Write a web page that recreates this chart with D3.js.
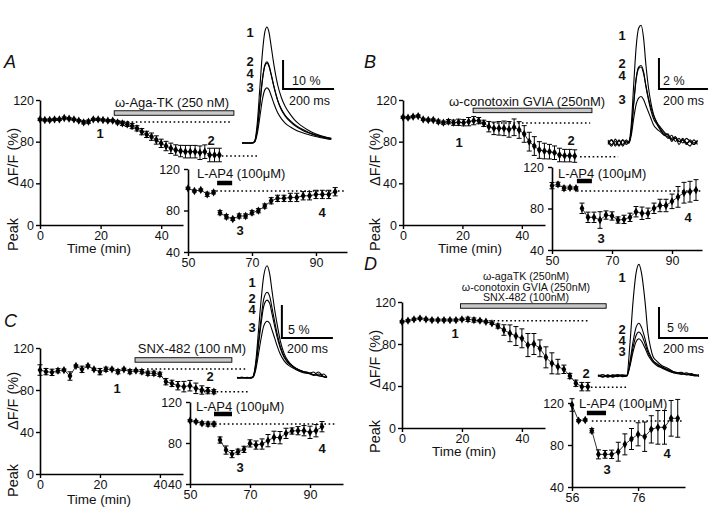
<!DOCTYPE html>
<html><head><meta charset="utf-8">
<script src="https://cdn.jsdelivr.net/npm/d3@7"></script>
<style>
body{margin:0;background:#fff;}
svg{font-family:"Liberation Sans",Arial,sans-serif;display:block;}
</style></head><body>
<svg id="chart" width="720" height="507"></svg>
<script>
// ================= DATA =================
// ---- Panel A (ω-Aga-TK) ----
const mainTimeA = [0,1.6,3.2,4.8,6.4,8,9.6,11.2,12.8,14.4,16,17.6,19.2,20.8,22.4,24,25.6,27.2,28.8,30.4,32,33.6,35.2,36.8,38.4,40,41.6,43.2,44.8,46.4,48,49.6,51.2,52.8,54.4,56,57.6,59.2];
const mainPeakA = [101.4,100.8,100.8,101.4,101.4,102.7,102.1,101.4,100.2,98.6,99.2,101.4,101.4,100.8,100.2,100.2,98.6,97.6,96.6,95,92.8,89.6,87,84.8,81.6,78.4,75.8,73.6,72,71,70.4,70.4,70.4,69.4,70.4,67.2,67.2,67.2];
const mainErrA  = [1,1,1,1,1,1,1,1,1,1.5,1.5,1,1,1,1,1,1.5,2,2,2.5,2.5,3,3,3.5,4,4,4.5,5,5,5.5,6,6,6,6.5,6.5,6.5,6.5,6.5];
const preTimeA  = [50,52,54,56,58];
const prePeakA  = [101.4,98.8,99.8,95.6,97.5];
const preErrA   = [1,1,1,2,1.5];
const postTimeA = [60,62,64,66,68,70,72,74,76,78,80,82,84,86,88,90,92,94,96];
const postPeakA = [77.9,74,71.8,74.7,74.7,77.9,79.8,84.3,89.4,91.7,91.7,92.6,92.6,94.2,94.2,95.5,95.5,95.5,98.1];
const postErrA  = [2,2,1.5,2,2,2,2,2,3,3,3,4,4,4,4,4,4,4,4];
// ---- Panel B (ω-conotoxin GVIA) ----
const mainTimeB = [0,1.7,3.4,5.1,6.8,8.5,10.2,11.9,13.6,15.3,17,18.7,20.4,22.1,23.8,25.5,27.2,28.9,30.6,32.3,34,35.7,37.4,39.1,40.8,42.5,44.2,45.9,47.6,49.3,51,52.7,54.4,56.1,57.8];
const mainPeakB = [103.4,103,104,104.6,101.4,100.8,100.8,99.2,98.2,99.2,98.2,98.6,98.2,99.2,100.2,100.2,97.6,94.4,92.8,92.8,92.8,91.8,93.8,91.2,87.4,80,75.8,72,71,70.4,69.4,67.2,66.6,66.6,66.2];
const mainErrB  = [1,1,1,1,1,1,1,1.5,1.5,2,2.5,3,3,4,4,3,3,5,6,6.5,7,7.5,8,8,8,9,9,8,7.5,7,6.5,6.5,6,6,6];
const preTimeB  = [50,52,54,56,58];
const prePeakB  = [102,103.3,99.5,100,99.5];
const preErrB   = [3,2,2,1.5,1.5];
const postTimeB = [60,62,64,66,68,70,72,74,76,78,80,82,84,86,88,90,92,94,96,98];
const postPeakB = [80.2,71.5,71.5,68.9,73.7,72.8,68.9,69.5,71.5,76.9,75.4,75.4,80.2,82.9,82.9,86.9,91.2,95.2,96.2,97.8];
const postErrB  = [5,5,5,8,4,4,3,4,4,5,6,5,5,6,6,7,10,10,10,10];
// ---- Panel C (SNX-482) ----
const mainTimeC = [0,2,4,6,8,10,12,14,16,18,20,22,24,26,28,30,32,34,36,38,40,42,44,46,48,50,52,54,56,58];
const mainPeakC = [99,97.5,96.8,98.4,99,93.3,102.9,99.7,102.9,99.7,97.5,99.7,99.7,97.5,99.7,97.5,98.4,97.5,95.9,95.9,94.9,87.9,86.3,84.1,83.2,84.1,81.6,80,79.4,78.4];
const mainErrC  = [5,3,3,2,1,4,1,3,1,1,3,2,1,2,1,2,1,2,2,2,2,3,3,4,5,5,5,4,3,2];
const preTimeC  = [50,52,54,56,58];
const prePeakC  = [101.8,100.8,99.2,98.5,98.5];
const preErrC   = [1,1,1.5,2,2];
const postTimeC = [60,62,64,66,68,70,72,74,76,78,80,82,84,86,88,90,92,94];
const postPeakC = [82.9,73.1,69.2,71.5,73.8,79.6,78,79,82.3,85.5,85.2,89.4,91.7,92,92,90.4,92,95.9];
const postErrC  = [3,4,3.5,2.5,3,3.5,4,5,6,6,6,5,3,4,5,6,6,5];
// ---- Panel D (all three toxins) ----
const mainTimeD = [0,2,4,6,8,10,12,14,16,18,20,22,24,26,28,30,32,34,36,38,40,42,44,46,48,50,52,54,56,58,60,62];
const mainPeakD = [101.2,102.2,103.5,104.4,103.5,102.8,102.8,102.8,102.8,102.8,103.5,103.5,102.8,102.2,101.2,99.7,97.1,93.3,90.2,87.6,85.4,79,80,75.9,67.3,61.6,58.4,55.9,49.5,42.6,39.4,39.4];
const mainErrD  = [1,1,1,1,1,1,1,1,1,1,1,2,2,1,1,1,2,5,8,9,9,11,10,8,10,10,7,4,2.5,3,4,4];
const preTimeD  = [56,58,60];
const prePeakD  = [118.1,103.2,103.8];
const preErrD   = [6,1,1];
const postTimeD = [62,64,66,68,70,72,74,76,78,80,82,84,86,88];
const postPeakD = [93.6,71.1,71.1,71.1,73.6,80.6,85.7,90.2,87.9,94.9,96.8,96.8,105.4,105.4];
const postErrD  = [2,4.3,3.7,4,9,10,10,11,14,13,16,16,17,18];

// ---- Axis tick values ----
const mainXTicks = [0,20,40];
const mainYTicks = [0,40,80,120];
const insetYTicks = [40,80,120];
const insetXTicksABC = [50,70,90];
const insetXTicksD = [56,76];

// ---- Example Ca2+ transients (time in ms, ΔF/F in %) ----
const traceTimeA = [0,20,40,50,60,70,80,90,98,105,115,125,140,155,170,190,210,235,260,285,310,335,350];
const traceA1 = [0,0,0,0.8,7,19,31,38.5,40,38.5,33,27,20,15.5,12.5,9.8,7.6,5.8,4.4,3.3,2.5,1.9,1.6];
const traceA2 = [0,0,0,0.6,5,13.5,22,27,28,27,23.5,19.5,14.5,11.3,9.2,7.3,5.8,4.5,3.5,2.7,2.1,1.6,1.4];
const traceA4 = [0,0,0,0.5,4.6,13,21.5,26.6,27.5,26.6,23.3,19.5,14.8,11.6,9.5,7.6,6.1,4.8,3.7,2.9,2.3,1.8,1.5];
const traceA3 = [0,0,0,0.4,3.3,9,15,18.4,19,18.5,16.2,13.6,10.4,8.3,6.8,5.5,4.5,3.6,2.9,2.3,1.8,1.4,1.2];

const traceTimeB = [0,15,30,45,60,75,86,95,105,115,125,135,145,155,165,175,185,200,215,230,245,260,275,290,305,320,335,350,365];
const traceB1 = [0.1,-0.2,0.25,-0.15,0.2,-0.1,0.1,1.2,3.8,6.2,7.4,7.6,6.8,5.0,3.6,2.6,1.9,1.3,0.9,0.5,0.6,0.1,0.4,-0.1,0.3,0.0,-0.2,0.2,-0.1];
const traceB2 = [-0.1,0.2,-0.2,0.15,-0.1,0.2,0.0,0.8,2.6,4.2,4.9,5.0,4.6,3.6,2.8,2.1,1.6,1.2,0.8,0.6,0.3,0.5,0.1,0.3,0.0,0.3,0.1,-0.1,0.2];
const traceB4 = [0.2,-0.1,0.1,-0.2,0.2,0.0,0.1,0.7,2.5,4.1,4.8,4.9,4.5,3.7,2.9,2.3,1.8,1.3,1.0,0.7,0.5,0.3,0.4,0.1,0.2,-0.1,0.2,0.0,0.1];
const traceB3 = [0.0,0.2,-0.1,0.2,-0.2,0.1,0.0,0.5,1.6,2.5,2.9,3.0,2.8,2.4,2.0,1.6,1.2,0.9,0.7,0.5,0.4,0.2,0.3,0.1,0.2,0.0,0.1,-0.1,0.1];

const traceTimeC = [0,20,40,55,63,75,85,95,105,118,128,138,148,158,170,185,200,220,240,260,280,300,320,340,353];
const traceC1 = [0,0.1,0,0,0.2,3,7.5,12,15.5,17,15.8,13,10.3,8.0,5.6,3.7,2.6,1.8,1.3,1.0,0.8,0.5,0.9,0.2,0.1];
const traceC2 = [0,0,0.1,0,0.2,2.4,5.8,9.2,12,13,12.4,10.5,8.5,6.6,4.8,3.3,2.4,1.7,1.3,1.0,0.8,0.5,0.4,0.6,0.1];
const traceC4 = [0.1,0,0,0.1,0.2,2.1,5.2,8.4,10.9,11.8,11.3,9.6,7.8,6.1,4.5,3.1,2.3,1.7,1.2,0.9,0.7,0.9,0.3,0.2,0.1];
const traceC3 = [0,0.1,0,0,0.1,1.5,3.8,6.1,7.9,8.6,8.3,7.2,6.0,4.8,3.6,2.6,2.0,1.5,1.1,0.8,0.7,0.4,0.6,0.2,0.1];

const traceTimeD = [0,20,40,60,80,100,118,130,143,155,167,178,192,204,215,225,240,260,282,300,320,340,360,380,400,412];
const traceD1 = [0.1,-0.2,0.2,-0.1,0.2,0,0.1,5,12,16.5,18,16.5,12,6.9,4.5,3.1,2.4,1.7,1.3,0.9,0.5,0.6,0.2,0.4,0.1,0.2];
const traceD2 = [-0.1,0.2,-0.1,0.2,-0.1,0.1,0,2.2,5.5,7.8,8.5,7.8,6,4.2,3.2,2.5,2.0,1.5,1.1,0.8,0.6,0.3,0.5,0.2,0.0,0.2];
const traceD4 = [0.2,-0.1,0.1,-0.2,0.1,0.2,0.1,1.8,4.6,6.5,7.1,6.6,5.2,3.8,3.0,2.4,1.9,1.4,1.0,0.7,0.5,0.5,0.2,0.3,0.1,0.0];
const traceD3 = [0.0,0.2,-0.2,0.1,0.2,-0.1,0.0,1.5,3.9,5.5,6.0,5.6,4.5,3.4,2.7,2.2,1.7,1.3,0.9,0.6,0.4,0.3,0.3,0.1,0.2,-0.1];

// ---- Drug applications and reference levels ----
const drugA = [24.5, 64];   const drugLabelA = ["ω-Aga-TK (250 nM)"];
const drugB = [23.6, 63.6]; const drugLabelB = ["ω-conotoxin GVIA (250nM)"];
const drugC = [31.7, 64];   const drugLabelC = ["SNX-482 (100 nM)"];
const drugD = [19.5, 68.1]; const drugLabelD = ["ω-agaTK (250nM)","ω-conotoxin GVIA (250nM)","SNX-482 (100nM)"];
const lap4A = [59.1, 63.8]; const lap4B = [58.3, 63.3]; const lap4C = [58, 64]; const lap4D = [60.5, 66.3];
const refMainA = [[24.7,63.4,98.9],[60,72,66.2]];
const refMainB = [[25.9,63,97.9],[59.6,72.4,65.6]];
const refMainC = [[35.7,69,100],[53.3,70,78.4]];
const refMainD = [[23.5,62,102.2],[63,74.8,38.7]];
const refInsetA = [58.8, 99, 98.8];
const refInsetB = [58.3, 100, 96.9];
const refInsetC = [57, 99, 98.5];
const refInsetD = [62, 89.6, 102.9];

// ================= DRAWING =================
const svg = d3.select("#chart");
const FONT = '"Liberation Sans", Arial, sans-serif';

function styleAxis(a, fs){
  a.attr("font-family", FONT);
  a.select(".domain").attr("stroke","#000").attr("stroke-width",1.6);
  a.selectAll(".tick line").attr("stroke","#000").attr("stroke-width",1.4);
  a.selectAll(".tick text").attr("font-size",fs).attr("fill","#111");
}
function axes(x, y, xt, yt, ypad){
  const ax = svg.append("g").attr("transform",`translate(0,${y.range()[0]})`)
    .call(d3.axisBottom(x).tickValues(xt).tickSize(4).tickSizeOuter(0).tickPadding(2));
  const ay = svg.append("g").attr("transform",`translate(${x.range()[0]},0)`)
    .call(d3.axisLeft(y).tickValues(yt).tickSize(4).tickSizeOuter(0).tickPadding(ypad));
  styleAxis(ax, 12.5); styleAxis(ay, 12.5);
}
function series(x, y, t, v, e){
  const g = svg.append("g");
  g.append("path").datum(t.map((tt,i)=>[tt,v[i]]))
    .attr("d", d3.line().x(d=>x(d[0])).y(d=>y(d[1])))
    .attr("fill","none").attr("stroke","#000").attr("stroke-width",0.8);
  const eb = g.append("g").attr("stroke","#000").attr("stroke-width",1);
  t.forEach((tt,i)=>{
    const cx = x(tt), y0 = y(v[i]-e[i]), y1 = y(v[i]+e[i]);
    eb.append("line").attr("x1",cx).attr("x2",cx).attr("y1",y0).attr("y2",y1);
    eb.append("line").attr("x1",cx-2.5).attr("x2",cx+2.5).attr("y1",y0).attr("y2",y0);
    eb.append("line").attr("x1",cx-2.5).attr("x2",cx+2.5).attr("y1",y1).attr("y2",y1);
  });
  g.selectAll("path.pt").data(t).join("path").attr("class","pt")
    .attr("d", d3.symbol(d3.symbolDiamond, 20))
    .attr("transform",(d,i)=>`translate(${x(d)},${y(v[i])})`).attr("fill","#000");
}
function dotted(x, y, r){
  svg.append("line").attr("x1",x(r[0])).attr("x2",x(r[1])).attr("y1",y(r[2])).attr("y2",y(r[2]))
    .attr("stroke","#000").attr("stroke-width",1.5).attr("stroke-dasharray","1.6,2.6");
}
function bar(x, y, r, level, h, fill){
  svg.append("rect").attr("x",x(r[0])).attr("width",x(r[1])-x(r[0]))
    .attr("y",y(level)-h/2).attr("height",h).attr("fill",fill)
    .attr("stroke","#000").attr("stroke-width",fill==="#000"?0:0.9);
}
function text(str, px, py, opt={}){
  const t = svg.append("text").attr("x",px).attr("y",py).text(str)
    .attr("font-family",FONT).attr("font-size",opt.fs||13).attr("fill","#111")
    .attr("text-anchor",opt.anchor||"start");
  if(opt.bold) t.attr("font-weight","bold");
  if(opt.italic) t.attr("font-style","italic");
  return t;
}
function ylabel(px, bottom, top){
  text("Peak", 0, 0, {fs:14.5}).attr("transform",`translate(${px},${bottom}) rotate(-90)`);
  text("ΔF/F (%)", 0, 0, {fs:14.5, anchor:"end"}).attr("transform",`translate(${px},${top}) rotate(-90)`);
}
function traces(tx, ty, t, list){
  const line = d3.line().x(d=>tx(d[0])).y(d=>ty(d[1])).curve(d3.curveMonotoneX);
  list.forEach(v=>{
    svg.append("path").datum(t.map((tt,i)=>[tt,v[i]])).attr("d",line)
      .attr("fill","none").attr("stroke","#000").attr("stroke-width",1.1);
  });
}
function scaleBar(tx, ty, t0, v0, dt, dv){
  svg.append("path").attr("d",`M${tx(t0)},${ty(v0+dv)}V${ty(v0)}H${tx(t0+dt)}`)
    .attr("fill","none").attr("stroke","#000").attr("stroke-width",2);
}

// ---------- Panel configs (layout only) ----------
const panels = [
 {letter:"A", lp:[4,68],
  mx:[0,47.2], mxr:[40,183], myr:[225,100],
  main:[mainTimeA,mainPeakA,mainErrA], refs:refMainA,
  drug:drugA, drugLevel:107.5, drugLabel:drugLabelA, drugLabelPos:[172,[107]], dfs:13,
  ylab:[18,251,128], timeLab:[99,253], num1:[100,138], num2:[211,145],
  ix:[50,99.7], ixr:[188,347], iyr:[252,169], ixt:insetXTicksABC,
  pre:[preTimeA,prePeakA,preErrA], post:[postTimeA,postPeakA,postErrA], iref:refInsetA,
  lap4:lap4A, lap4Level:106.5, lapLabel:[197,178], num3:[240,235], num4:[322,217],
  tx:[0,200,242,293], ty:[0,10,143,114], trT:traceTimeA, tr:[traceA1,traceA2,traceA4,traceA3],
  sb:[161,18.6,200,10], sbLab:["10 %",292,85,"200 ms",289,105],
  trLab:[250,[37,66,78,92]]},
 {letter:"B", lp:[364,68],
  mx:[0,47.8], mxr:[403,545], myr:[225,100],
  main:[mainTimeB,mainPeakB,mainErrB], refs:refMainB,
  drug:drugB, drugLevel:110, drugLabel:drugLabelB, drugLabelPos:[527,[106]], dfs:13,
  ylab:[380,251,128], timeLab:[470,253], num1:[459,147], num2:[571,145],
  ix:[50,100], ixr:[552,702], iyr:[250,167], ixt:insetXTicksABC,
  pre:[preTimeB,prePeakB,preErrB], post:[postTimeB,postPeakB,postErrB], iref:refInsetB,
  lap4:lap4B, lap4Level:106.5, lapLabel:[558,178], num3:[601,243], num4:[688,222],
  tx:[0,200,608,657], ty:[0,2,143,112], trT:traceTimeB, tr:[traceB1,traceB2,traceB4,traceB3],
  sb:[208,3.48,200,2], sbLab:["2 %",663,85,"200 ms",663,105],
  trLab:[622,[40,68,80,104]]},
 {letter:"C", lp:[4,327],
  mx:[0,47.7], mxr:[40,183], myr:[474,348],
  main:[mainTimeC,mainPeakC,mainErrC], refs:refMainC,
  drug:drugC, drugLevel:108.6, drugLabel:drugLabelC, drugLabelPos:[192,[353]], dfs:13,
  ylab:[18,497,372], timeLab:[99,504], num1:[117,393], num2:[210,381],
  ix:[50,101], ixr:[190,343], iyr:[484,402], ixt:insetXTicksABC,
  pre:[preTimeC,prePeakC,preErrC], post:[postTimeC,postPeakC,postErrC], iref:refInsetC,
  lap4:lap4C, lap4Level:108.3, lapLabel:[196,411], num3:[240,472], num4:[322,453],
  tx:[0,200,237,288], ty:[0,5,378,345], trT:traceTimeC, tr:[traceC1,traceC2,traceC4,traceC3],
  sb:[176,6.06,200,5], sbLab:["5 %",288,334,"200 ms",287,353],
  trLab:[252,[287,303,314,332]]},
 {letter:"D", lp:[364,270],
  mx:[0,47.7], mxr:[402,545], myr:[428,302],
  main:[mainTimeD,mainPeakD,mainErrD], refs:refMainD,
  drug:drugD, drugLevel:116.2, drugLabel:drugLabelD, drugLabelPos:[526,[280,291,301]], dfs:10.7,
  ylab:[380,453,330], timeLab:[464,456], num1:[455,338], num2:[586,378],
  ix:[56,90.2], ixr:[572,685], iyr:[487,403], ixt:insetXTicksD,
  pre:[preTimeD,prePeakD,preErrD], post:[postTimeD,postPeakD,postErrD], iref:refInsetD,
  lap4:lap4D, lap4Level:110.5, lapLabel:[579,408], num3:[607,474], num4:[667,458],
  tx:[0,200,598,647], ty:[0,5,376,345], trT:traceTimeD, tr:[traceD1,traceD2,traceD4,traceD3],
  sb:[249,6.13,200,5], sbLab:["5 %",667,332,"200 ms",663,353],
  trLab:[622,[282,334,345,356]]}
];

panels.forEach(p=>{
  // main plot
  const x = d3.scaleLinear().domain(p.mx).range(p.mxr);
  const y = d3.scaleLinear().domain([0,120]).range(p.myr);
  p.refs.forEach(r=>dotted(x,y,r));
  series(x,y,...p.main);
  axes(x,y,mainXTicks,mainYTicks,2);
  bar(x,y,p.drug,p.drugLevel,4.5,"#c8c8c8");
  p.drugLabel.forEach((s,i)=>text(s,p.drugLabelPos[0],p.drugLabelPos[1][i],{fs:p.dfs,anchor:"middle"}));
  ylabel(...p.ylab);
  text("Time (min)",p.timeLab[0],p.timeLab[1],{anchor:"middle",fs:13.5});
  text("1",p.num1[0],p.num1[1],{bold:true,anchor:"middle"});
  text("2",p.num2[0],p.num2[1],{bold:true,anchor:"middle"});
  text(p.letter,p.lp[0],p.lp[1],{italic:true,fs:18});

  // inset (L-AP4)
  const ix = d3.scaleLinear().domain(p.ix).range(p.ixr);
  const iy = d3.scaleLinear().domain([40,120]).range(p.iyr);
  dotted(ix,iy,p.iref);
  series(ix,iy,...p.pre);
  series(ix,iy,...p.post);
  axes(ix,iy,p.ixt,insetYTicks,4);
  bar(ix,iy,p.lap4,p.lap4Level,4.5,"#000");
  text("L-AP4 (100μM)",p.lapLabel[0],p.lapLabel[1],{fs:13});
  text("3",p.num3[0],p.num3[1],{bold:true,anchor:"middle"});
  text("4",p.num4[0],p.num4[1],{bold:true,anchor:"middle"});

  // example traces
  const tx = d3.scaleLinear().domain([p.tx[0],p.tx[1]]).range([p.tx[2],p.tx[3]]);
  const ty = d3.scaleLinear().domain([p.ty[0],p.ty[1]]).range([p.ty[2],p.ty[3]]);
  traces(tx,ty,p.trT,p.tr);
  scaleBar(tx,ty,...p.sb);
  text(p.sbLab[0],p.sbLab[1],p.sbLab[2],{fs:12.5});
  text(p.sbLab[3],p.sbLab[4],p.sbLab[5],{fs:12.5});
  ["1","2","4","3"].forEach((s,i)=>text(s,p.trLab[0],p.trLab[1][i],{bold:true,anchor:"middle"}));
});
</script>
</body></html>
